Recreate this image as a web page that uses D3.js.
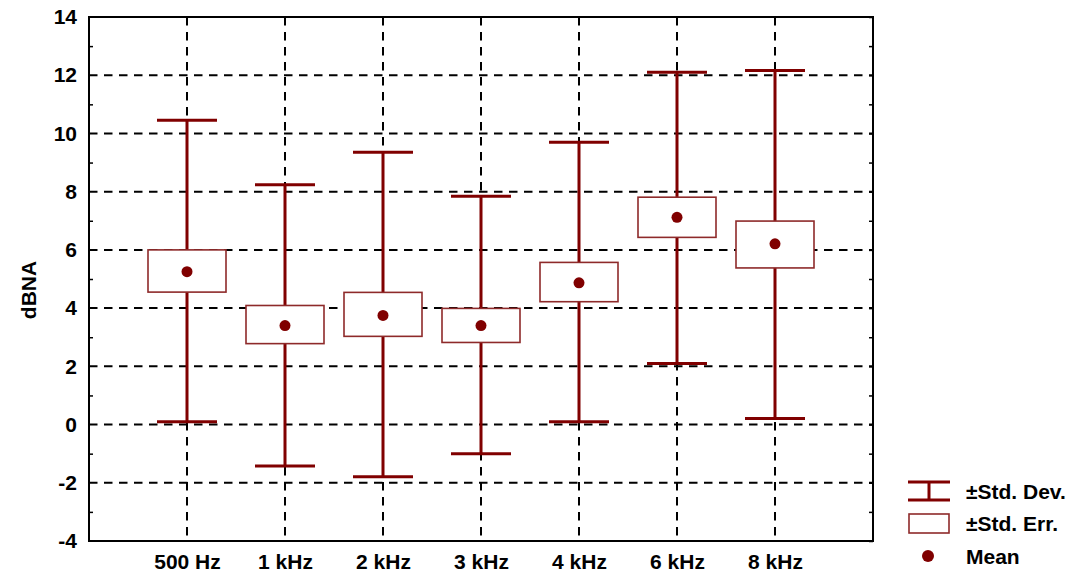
<!DOCTYPE html>
<html>
<head>
<meta charset="utf-8">
<script src="https://cdn.jsdelivr.net/npm/d3@7"></script>
<style>
  html, body { margin: 0; padding: 0; background: #fff; }
  svg { display: block; font-family: "Liberation Sans", Arial, sans-serif; font-weight: bold; }
</style>
</head>
<body>
<div id="chart"></div>
<script>
(function() {
    'use strict';

    // data
    var categories = ['500 Hz', '1 kHz', '2 kHz', '3 kHz', '4 kHz', '6 kHz', '8 kHz'];
    var means   = [5.25, 3.40, 3.75, 3.40, 4.87, 7.12, 6.21];
    var seLow   = [4.55, 2.78, 3.03, 2.82, 4.22, 6.43, 5.38];
    var seHigh  = [6.00, 4.09, 4.54, 3.99, 5.57, 7.81, 6.99];
    var sdLow   = [0.10, -1.42, -1.79, -1.00, 0.10, 2.10, 0.21];
    var sdHigh  = [10.45, 8.24, 9.35, 7.84, 9.70, 12.10, 12.16];
    var yMajor  = [-4, -2, 0, 2, 4, 6, 8, 10, 12, 14];
    var yMinor  = [-3, -1, 1, 3, 5, 7, 9, 11, 13];
    var legendLabels = ['\u00b1Std. Dev.', '\u00b1Std. Err.', 'Mean'];

    var dark = '#800000';
    var boxStroke = '#8e2a2a';
    var fontSize = 21;
    var W = 1072, H = 574;
    var m = { left: 89, right: 873, top: 17, bottom: 541 };

    var rows = categories.map(function(c, i) {
        return { cat: c, mean: means[i], seLow: seLow[i], seHigh: seHigh[i], sdLow: sdLow[i], sdHigh: sdHigh[i] };
    });

    var svg = d3.select('#chart').append('svg')
        .attr('width', W).attr('height', H);

    var x = d3.scalePoint().domain(categories).range([m.left, m.right]).padding(1);
    var y = d3.scaleLinear().domain([-4, 14]).range([m.bottom, m.top]);

    function styleText(sel) {
        sel.attr('font-size', fontSize).attr('font-weight', 'bold')
            .attr('font-family', '"Liberation Sans", Arial, sans-serif').attr('fill', '#000');
    }

    // grid
    var grid = svg.append('g').attr('stroke', '#000').attr('stroke-width', 2)
        .attr('stroke-dasharray', '8.5,6.5');
    grid.selectAll('line.h')
        .data(yMajor.filter(function(v) { return v > -4 && v < 14; }))
        .join('line').attr('class', 'h')
        .attr('x1', m.left).attr('x2', m.right)
        .attr('y1', function(d) { return y(d); }).attr('y2', function(d) { return y(d); });
    grid.selectAll('line.v')
        .data(categories)
        .join('line').attr('class', 'v')
        .attr('y1', m.top).attr('y2', m.bottom)
        .attr('x1', function(d) { return x(d); }).attr('x2', function(d) { return x(d); });

    // y axis labels (plain hyphen for negatives)
    var yAxis = svg.append('g')
        .attr('transform', 'translate(' + m.left + ',0)')
        .call(d3.axisLeft(y).tickValues(yMajor).tickSize(0).tickPadding(12)
            .tickFormat(function(d) { return String(d); }));
    yAxis.select('.domain').remove();
    yAxis.selectAll('text').call(styleText);

    // minor ticks, inward on both sides
    svg.append('g').attr('transform', 'translate(' + m.left + ',0)')
        .call(d3.axisLeft(y).tickValues(yMinor).tickSize(-4).tickFormat(''))
        .call(function(g) { g.select('.domain').remove(); g.selectAll('line').attr('stroke-width', 1.5); });
    svg.append('g').attr('transform', 'translate(' + m.right + ',0)')
        .call(d3.axisRight(y).tickValues(yMinor.concat(yMajor)).tickSize(-4).tickFormat(''))
        .call(function(g) { g.select('.domain').remove(); g.selectAll('line').attr('stroke-width', 1.5); });

    // x axis labels
    var xAxis = svg.append('g')
        .attr('transform', 'translate(0,' + m.bottom + ')')
        .call(d3.axisBottom(x).tickSize(0).tickPadding(13));
    xAxis.select('.domain').remove();
    xAxis.selectAll('text').call(styleText);

    // y title
    svg.append('text')
        .attr('transform', 'translate(36,290) rotate(-90)')
        .attr('text-anchor', 'middle')
        .attr('font-size', fontSize)
        .text('dBNA');

    // whiskers (std dev)
    var capHalf = 30, boxHalf = 39;
    var wh = svg.append('g').attr('stroke', dark).attr('stroke-width', 3);
    wh.selectAll('line.stem').data(rows).join('line').attr('class', 'stem')
        .attr('x1', function(d) { return x(d.cat); }).attr('x2', function(d) { return x(d.cat); })
        .attr('y1', function(d) { return y(d.sdHigh); }).attr('y2', function(d) { return y(d.sdLow); });
    wh.selectAll('line.capHi').data(rows).join('line').attr('class', 'capHi')
        .attr('x1', function(d) { return x(d.cat) - capHalf; }).attr('x2', function(d) { return x(d.cat) + capHalf; })
        .attr('y1', function(d) { return y(d.sdHigh); }).attr('y2', function(d) { return y(d.sdHigh); });
    wh.selectAll('line.capLo').data(rows).join('line').attr('class', 'capLo')
        .attr('x1', function(d) { return x(d.cat) - capHalf; }).attr('x2', function(d) { return x(d.cat) + capHalf; })
        .attr('y1', function(d) { return y(d.sdLow); }).attr('y2', function(d) { return y(d.sdLow); });

    // boxes (std err)
    svg.append('g').selectAll('rect').data(rows).join('rect')
        .attr('x', function(d) { return x(d.cat) - boxHalf; })
        .attr('width', boxHalf * 2)
        .attr('y', function(d) { return y(d.seHigh); })
        .attr('height', function(d) { return y(d.seLow) - y(d.seHigh); })
        .attr('fill', '#fff').attr('stroke', boxStroke).attr('stroke-width', 1.6);

    // means
    svg.append('g').selectAll('circle').data(rows).join('circle')
        .attr('cx', function(d) { return x(d.cat); })
        .attr('cy', function(d) { return y(d.mean); })
        .attr('r', 5.5).attr('fill', dark);

    // frame
    svg.append('rect')
        .attr('x', m.left).attr('y', m.top)
        .attr('width', m.right - m.left).attr('height', m.bottom - m.top)
        .attr('fill', 'none').attr('stroke', '#000').attr('stroke-width', 2);

    // legend
    var lg = svg.append('g');
    var lx = 929, tx = 966, ly = [491, 523, 556];
    lg.append('line').attr('x1', lx - 21).attr('x2', lx + 21).attr('y1', ly[0] - 9).attr('y2', ly[0] - 9)
        .attr('stroke', dark).attr('stroke-width', 3);
    lg.append('line').attr('x1', lx - 21).attr('x2', lx + 21).attr('y1', ly[0] + 9).attr('y2', ly[0] + 9)
        .attr('stroke', dark).attr('stroke-width', 3);
    lg.append('line').attr('x1', lx).attr('x2', lx).attr('y1', ly[0] - 9).attr('y2', ly[0] + 9)
        .attr('stroke', dark).attr('stroke-width', 3);
    lg.append('rect').attr('x', lx - 20).attr('y', ly[1] - 9).attr('width', 40).attr('height', 19)
        .attr('fill', '#fff').attr('stroke', boxStroke).attr('stroke-width', 1.6);
    lg.append('circle').attr('cx', lx - 1).attr('cy', ly[2]).attr('r', 6).attr('fill', dark);
    lg.selectAll('text').data(legendLabels).join('text')
        .attr('x', tx).attr('y', function(d, i) { return ly[i]; })
        .attr('dy', '0.36em').attr('font-size', fontSize)
        .text(function(d) { return d; });
})();
</script>
</body>
</html>
